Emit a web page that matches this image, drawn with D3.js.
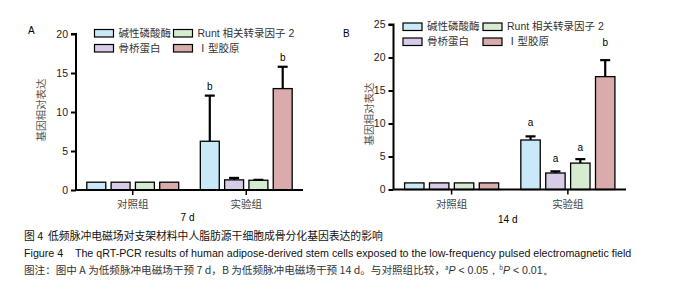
<!DOCTYPE html>
<html>
<head>
<meta charset="utf-8">
<script src="https://cdn.jsdelivr.net/npm/d3@7"></script>
<style>
  body { margin: 0; background: #fff; }
  svg { display: block; }
  text { font-family: "Liberation Sans", Arial, "Noto Sans CJK SC", sans-serif; white-space: pre; }
  .cjk { font-family: "Noto Sans CJK SC", sans-serif; }
</style>
</head>
<body>
<div id="chart"></div>
<script>
const groups = ['对照组', '实验组'];
const series = ['碱性磷酸酶', '骨桥蛋白', 'Runt 相关转录因子 2', 'Ⅰ型胶原'];
const colors = ['#c9e9f8', '#d7cbe7', '#d6ecd1', '#d9abab'];

// panel A (7 d)
const valuesA = [[1, 1, 1, 1], [6.25, 1.3, 1.25, 13]];
const errorsA = [[1, 1, 1, 1], [12.1, 1.55, 1.3, 15.8]];
const marksA = [['', '', '', ''], ['b', '', '', 'b']];
const ticksA = [0, 5, 10, 15, 20];

// panel B (14 d)
const valuesB = [[1, 1, 1, 1], [7.5, 2.5, 4.0, 17.1]];
const errorsB = [[1, 1, 1, 1], [8.05, 2.75, 4.6, 19.6]];
const marksB = [['', '', '', ''], ['a', 'a', 'a', 'b']];
const ticksB = [0, 5, 10, 15, 20, 25];

const width = 689, height = 289;
const svg = d3.select('#chart').append('svg')
  .attr('width', width)
  .attr('height', height);

function drawPanel(opt) {
  const g = svg.append('g');
  const y = d3.scaleLinear().domain([0, opt.max]).range([opt.y0, opt.y1]);
  const x0 = d3.scaleBand().domain(groups).range([opt.x0, opt.x1]).padding(0);
  const x1 = d3.scaleBand().domain(d3.range(series.length))
    .range([0, x0.bandwidth()]).paddingInner(0.22).paddingOuter(0.445);

  // bars
  groups.forEach((grp, gi) => {
    const gg = g.append('g').attr('transform', `translate(${x0(grp)},0)`);
    gg.selectAll('rect')
      .data(opt.values[gi])
      .enter()
      .append('rect')
      .attr('x', (d, i) => x1(i))
      .attr('y', d => y(d))
      .attr('width', x1.bandwidth())
      .attr('height', d => y(0) - y(d))
      .attr('fill', (d, i) => colors[i])
      .attr('stroke', '#000')
      .attr('stroke-width', 1.3);

    // error bars (upper half only)
    opt.errors[gi].forEach((e, i) => {
      const v = opt.values[gi][i];
      if (e <= v) return;
      const cx = x1(i) + x1.bandwidth() / 2;
      gg.append('line')
        .attr('x1', cx).attr('x2', cx)
        .attr('y1', y(v)).attr('y2', y(e))
        .attr('stroke', '#000').attr('stroke-width', 2.2);
      gg.append('line')
        .attr('x1', cx - 5).attr('x2', cx + 5)
        .attr('y1', y(e)).attr('y2', y(e))
        .attr('stroke', '#000').attr('stroke-width', 2.2);
    });

    // significance letters
    gg.selectAll('text.mark')
      .data(opt.marks[gi])
      .enter()
      .append('text')
      .attr('class', 'mark')
      .attr('x', (d, i) => x1(i) + x1.bandwidth() / 2)
      .attr('y', (d, i) => y(Math.max(opt.errors[gi][i], opt.values[gi][i])) - opt.markGap[i])
      .attr('text-anchor', 'middle')
      .style('font-size', '10px')
      .text(d => d);
  });

  // y axis
  const yAxis = g.append('g')
    .attr('transform', `translate(${opt.x0},0)`)
    .call(d3.axisLeft(y).tickValues(opt.ticks).tickSize(5).tickPadding(3));
  yAxis.select('.domain').attr('stroke-width', 2).attr('d', `M-5,${y(opt.max)}H0V${y(0)}`);
  yAxis.selectAll('.tick line').attr('stroke-width', 2);
  yAxis.selectAll('text').style('font-size', '10.5px').attr('fill', '#222')
    .style('font-family', '"Liberation Sans", Arial, sans-serif');

  // x axis
  const xAxis = g.append('g')
    .attr('transform', `translate(0,${y(0)})`)
    .call(d3.axisBottom(x0).tickSize(5).tickPadding(4));
  xAxis.select('.domain').attr('stroke-width', 2).attr('d', `M${opt.x0},0H${opt.x1}`);
  xAxis.selectAll('.tick line').attr('stroke-width', 1.5);
  xAxis.selectAll('text').attr('class', 'cjk').style('font-size', '10.5px').attr('fill', '#444')
    .attr('dy', '0.9em');

  // labels
  g.append('text')
    .attr('x', (opt.x0 + opt.x1) / 2 - 2)
    .attr('y', opt.dayY)
    .attr('text-anchor', 'middle')
    .style('font-size', '10px')
    .text(opt.day);
  g.append('text')
    .attr('class', 'cjk')
    .attr('transform', `translate(${opt.labelX},${opt.labelY}) rotate(-90)`)
    .attr('text-anchor', 'middle')
    .attr('dy', '0.35em')
    .attr('fill', '#555')
    .style('font-size', '10.5px')
    .text('基因相对表达');
  g.append('text')
    .attr('x', opt.letterX)
    .attr('y', opt.letterY)
    .attr('dy', '0.35em')
    .style('font-size', '10px')
    .text(opt.letter);

  // legend (column-major: two rows)
  const lg = g.append('g');
  series.forEach((s, i) => {
    const col = Math.floor(i / 2), row = i % 2;
    const lx = opt.legX + col * opt.legColW;
    const ly = opt.legY + row * 15;
    lg.append('rect')
      .attr('x', lx).attr('y', ly - 3.5)
      .attr('width', 19).attr('height', 7.5)
      .attr('fill', colors[i])
      .attr('stroke', '#000').attr('stroke-width', 1.2);
    lg.append('text')
      .attr('x', lx + 24).attr('y', ly)
      .attr('dy', '0.35em')
      .attr('fill', '#333')
      .style('font-size', '10.5px')
      .style('font-family', i === 2 ? '"Liberation Sans", "Noto Sans CJK SC", sans-serif' : '"Noto Sans CJK SC", sans-serif')
      .text(s);
  });
}

drawPanel({
  values: valuesA, errors: errorsA, marks: marksA, ticks: ticksA, max: 20,
  x0: 76, x1: 303, y0: 190, y1: 34, markGap: [6, 6, 6, 6],
  day: '7 d', dayY: 221, labelX: 41, labelY: 110,
  letter: 'A', letterX: 28, letterY: 30,
  legX: 94.5, legY: 33, legColW: 79
});

drawPanel({
  values: valuesB, errors: errorsB, marks: marksB, ticks: ticksB, max: 25,
  x0: 393.5, x1: 626, y0: 189.5, y1: 24.5, markGap: [10, 9, 8, 14],
  day: '14 d', dayY: 223, labelX: 369, labelY: 114,
  letter: 'B', letterX: 343, letterY: 33,
  legX: 403, legY: 26.5, legColW: 80
});

// caption
const cap = svg.append('g');
cap.append('text').attr('class', 'cjk').attr('x', 24).attr('y', 240).attr('fill', '#111')
  .style('font-size', '10.8px')
  .text('图 4  低频脉冲电磁场对支架材料中人脂肪源干细胞成骨分化基因表达的影响');
cap.append('text').attr('x', 24).attr('y', 257).attr('fill', '#111')
  .style('font-size', '10.7px')
  .style('font-family', '"Liberation Sans", Arial, sans-serif')
  .text('Figure 4    The qRT-PCR results of human adipose-derived stem cells exposed to the low-frequency pulsed electromagnetic field');
const note = cap.append('text').attr('class', 'cjk').attr('x', 24).attr('y', 274).attr('fill', '#333')
  .style('font-size', '10.6px');
note.append('tspan').text('图注：图中 A 为低频脉冲电磁场干预 7 d，B 为低频脉冲电磁场干预 14 d。与对照组比较，');
note.append('tspan').attr('baseline-shift', 'super').style('font-size', '6px').text('a');
note.append('tspan').style('font-style', 'italic').style('font-family', '"Liberation Sans", Arial, sans-serif').text('P');
note.append('tspan').style('font-family', '"Liberation Sans", Arial, sans-serif').text(' < 0.05，');
note.append('tspan').attr('baseline-shift', 'super').style('font-size', '6px').text('b');
note.append('tspan').style('font-style', 'italic').style('font-family', '"Liberation Sans", Arial, sans-serif').text('P');
note.append('tspan').style('font-family', '"Liberation Sans", Arial, sans-serif').text(' < 0.01。');
</script>
</body>
</html>
